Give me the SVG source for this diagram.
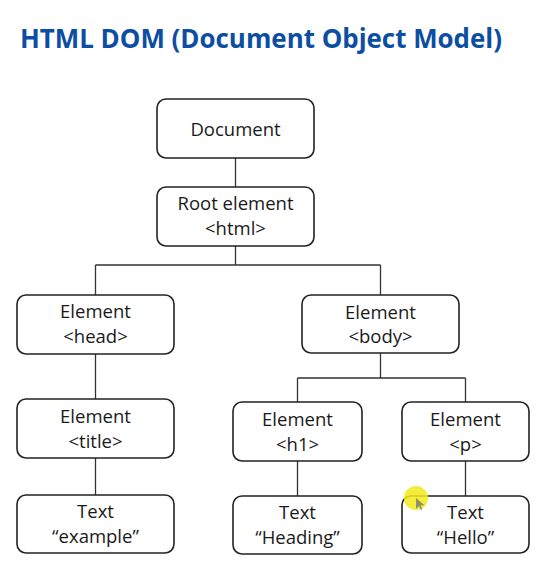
<svg xmlns="http://www.w3.org/2000/svg" width="551" height="574" viewBox="0 0 551 574">
<style>
.box{fill:#fff;stroke:#222;stroke-width:1.6}
.lbl{font-family:"Open Sans","Liberation Sans",sans-serif;font-size:18.5px;fill:#1a1a1a;text-anchor:middle}
.con{fill:none;stroke:#333;stroke-width:1.3}
.title{font-family:"Open Sans","Liberation Sans",sans-serif;font-weight:bold;font-size:26px;fill:#0b4ea2}
</style>
<rect width="551" height="574" fill="#fff"/>
<text class="title" x="20" y="48" textLength="482" lengthAdjust="spacingAndGlyphs">HTML DOM (Document Object Model)</text>
<g id="connectors">
<path class="con" d="M235.5 158V187"/>
<path class="con" d="M235.5 246V265M95.5 265H380.5M95.5 265V295M380.5 265V295"/>
<path class="con" d="M95.5 354V399"/>
<path class="con" d="M95.5 458V495"/>
<path class="con" d="M380.5 353V378M297.5 378H465.5M297.5 378V402M465.5 378V402"/>
<path class="con" d="M297.5 461V496"/>
<path class="con" d="M465.5 461V496"/>
</g>
<g id="document"><rect class="box" x="157" y="99" width="157" height="59" rx="9"/><text class="lbl" x="235.5" y="136">Document</text></g>
<g id="root"><rect class="box" x="157" y="187" width="157" height="59" rx="9"/><text class="lbl" x="235.5" y="210">Root element</text><text class="lbl" x="235.5" y="235">&lt;html&gt;</text></g>
<g id="head"><rect class="box" x="17" y="295" width="157" height="59" rx="9"/><text class="lbl" x="95.5" y="318">Element</text><text class="lbl" x="95.5" y="343">&lt;head&gt;</text></g>
<g id="body"><rect class="box" x="302" y="295" width="157" height="58" rx="9"/><text class="lbl" x="380.5" y="319">Element</text><text class="lbl" x="380.5" y="343">&lt;body&gt;</text></g>
<g id="title-el"><rect class="box" x="17" y="399" width="157" height="59" rx="9"/><text class="lbl" x="95.5" y="423">Element</text><text class="lbl" x="95.5" y="448">&lt;title&gt;</text></g>
<g id="h1"><rect class="box" x="233" y="402" width="129" height="59" rx="9"/><text class="lbl" x="297.5" y="426">Element</text><text class="lbl" x="297.5" y="451">&lt;h1&gt;</text></g>
<g id="p"><rect class="box" x="402" y="402" width="127" height="59" rx="9"/><text class="lbl" x="465.5" y="426">Element</text><text class="lbl" x="465.5" y="451">&lt;p&gt;</text></g>
<g id="text-example"><rect class="box" x="17" y="495" width="157" height="58" rx="9"/><text class="lbl" x="95.5" y="518">Text</text><text class="lbl" x="95.5" y="543">“example”</text></g>
<g id="text-heading"><rect class="box" x="233" y="496" width="129" height="58" rx="9"/><text class="lbl" x="297.5" y="519">Text</text><text class="lbl" x="297.5" y="544">“Heading”</text></g>
<g id="text-hello"><rect class="box" x="402" y="496" width="127" height="57" rx="9"/><text class="lbl" x="465.5" y="519">Text</text><text class="lbl" x="465.5" y="544">“Hello”</text></g>
<g id="cursor">
<circle cx="416" cy="498" r="12" fill="#f2ea1a" opacity="0.85"/>
<path d="M416 498l0 11 3-3 2 4 1.5-0.8-2-4 4 0z" fill="#777" opacity="0.8"/>
</g>
</svg>
